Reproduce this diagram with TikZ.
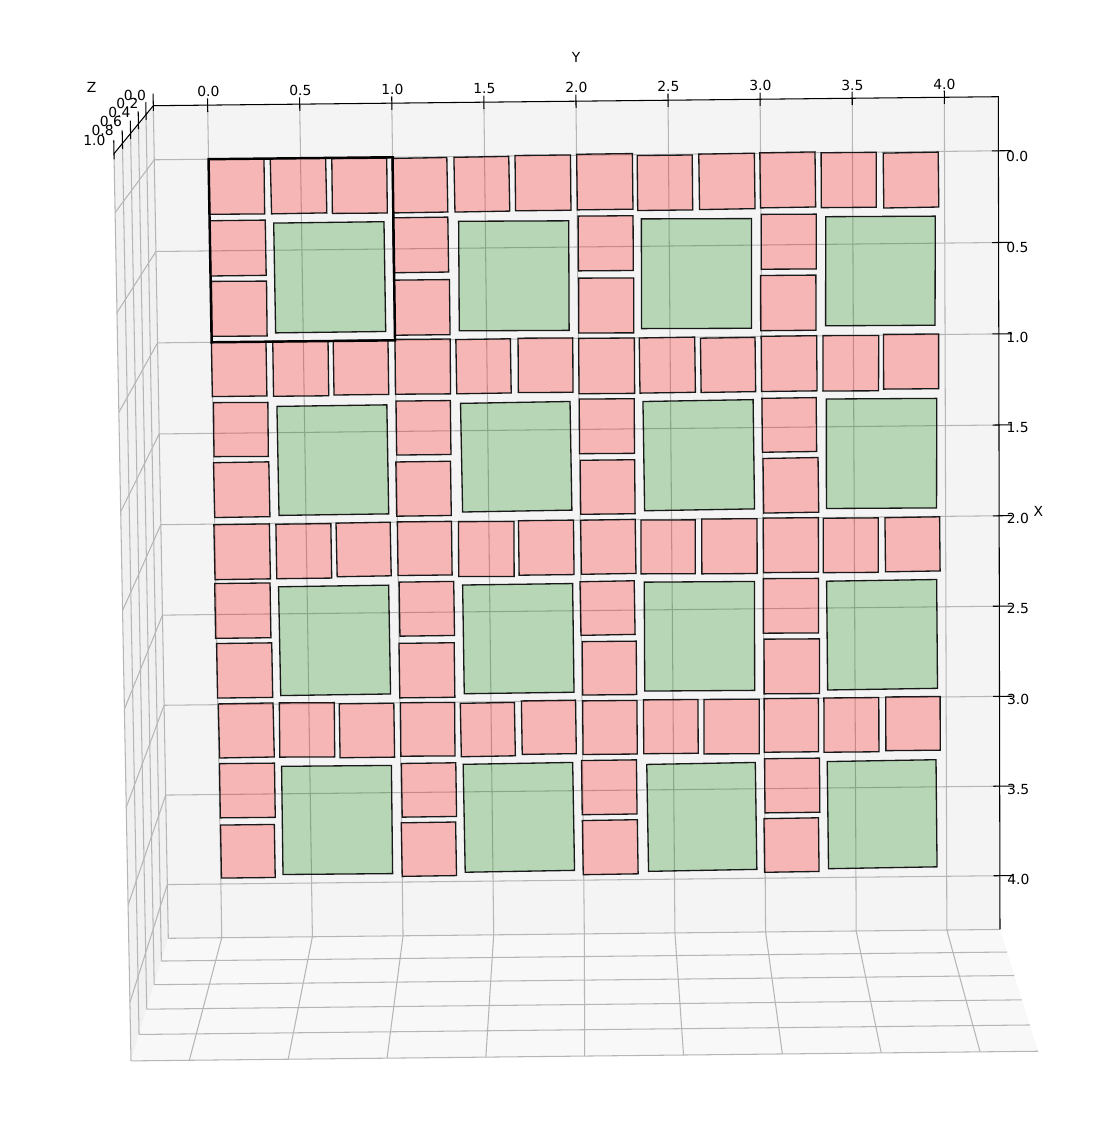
\documentclass[tikz,border=0pt]{standalone}
\usepackage{fontspec}
\setmainfont{DejaVu Sans}
\definecolor{paneback}{RGB}{244,244,244}
\definecolor{paneleft}{RGB}{241,241,241}
\definecolor{panefloor}{RGB}{248,248,248}
\definecolor{gridgray}{RGB}{182,182,182}
\definecolor{tilegreen}{RGB}{0,128,0}
% data limits of the three axes
\def\xlo{-0.294}\def\xhi{4.301}
\def\ylo{-0.295}\def\yhi{4.293}
% projection of a data point (x,y,z) to picture pixels
\tikzdeclarecoordinatesystem{d}{\dproj#1\relax}
\def\dproj#1,#2,#3\relax{%
  \pgfmathsetmacro\da{(#2+0.295)/4.588}%
  \pgfmathsetmacro\db{(#1+0.294)/4.595}%
  \pgfmathsetmacro\dw{1+0.016*\db}%
  \pgfmathsetmacro\du{(153.3+845*\da+17.69*\db)/\dw}%
  \pgfmathsetmacro\dv{(105.7-9*\da+847.61*\db)/\dw}%
  \pgfmathsetmacro\dr{\dw/(\dw-0.0844*(#3))}%
  \pgfpointxy{580+\dr*(\du-580)}{-415+\dr*(\dv+415)}}
% one square tile: style, x0, y0, size
\newcommand{\tile}[4]{%
  \pgfmathsetmacro\tsz{#4+0.004*rand}%
  \pgfmathsetmacro\tcx{#2+#4/2+0.005*rand}%
  \pgfmathsetmacro\tcy{#3+#4/2+0.005*rand}%
  \pgfmathsetmacro\trot{0.45*rand}%
  \pgfmathsetmacro\thc{\tsz/2*cos(\trot)}%
  \pgfmathsetmacro\ths{\tsz/2*sin(\trot)}%
  \draw[#1] (d cs:\tcx-\thc+\ths,\tcy-\thc-\ths,0) -- (d cs:\tcx-\thc-\ths,\tcy+\thc-\ths,0)
    -- (d cs:\tcx+\thc-\ths,\tcy+\thc+\ths,0) -- (d cs:\tcx+\thc+\ths,\tcy-\thc+\ths,0) -- cycle;}
\begin{document}
\begin{tikzpicture}[
  x=0.2mm, y=-0.2mm,
  font=\fontsize{7.9}{9}\selectfont,
  gridline/.style={draw=gridgray, line width=0.6pt},
  axisline/.style={draw=black, line width=0.6pt},
  redtile/.style={draw=black!90, line width=0.75pt, fill=red, fill opacity=0.25, draw opacity=1},
  greentile/.style={draw=black!90, line width=0.75pt, fill=tilegreen, fill opacity=0.25, draw opacity=1},
  blockline/.style={draw=black, line width=1.4pt},
  ticklabel/.style={inner sep=0pt}
]
\useasboundingbox (0,0) rectangle (1118,1127);
\pgfmathsetseed{7}
% panes
\fill[paneback] (d cs:\xlo,\ylo,0) -- (d cs:\xlo,\yhi,0) -- (d cs:\xhi,\yhi,0) -- (d cs:\xhi,\ylo,0) -- cycle;
\fill[paneleft] (d cs:\xlo,\ylo,0) -- (d cs:\xhi,\ylo,0) -- (d cs:\xhi,\ylo,1) -- (d cs:\xlo,\ylo,1) -- cycle;
\fill[panefloor] (d cs:\xhi,\ylo,0) -- (d cs:\xhi,\yhi,0) -- (d cs:\xhi,\yhi,1) -- (d cs:\xhi,\ylo,1) -- cycle;
% grid
\foreach \t in {0,0.5,...,4}{
  \draw[gridline] (d cs:\xlo,\t,0) -- (d cs:\xhi,\t,0);
  \draw[gridline] (d cs:\t,\ylo,0) -- (d cs:\t,\yhi,0);
  \draw[gridline] (d cs:\t,\ylo,0) -- (d cs:\t,\ylo,1);
  \draw[gridline] (d cs:\xhi,\t,0) -- (d cs:\xhi,\t,1);
}
\foreach \z in {0,0.2,0.4,0.6,0.8,1}{
  \draw[gridline] (d cs:\xlo,\ylo,\z) -- (d cs:\xhi,\ylo,\z);
  \draw[gridline] (d cs:\xhi,\ylo,\z) -- (d cs:\xhi,\yhi,\z);
}
% axes and ticks
\draw[axisline] (d cs:\xlo,\ylo,0) -- (d cs:\xlo,\yhi,0) -- (d cs:\xhi,\yhi,0);
\draw[axisline] (d cs:\xlo,\ylo,0) -- (d cs:\xlo,\ylo,1);
\foreach \t in {0,0.5,...,4}{
  \draw[axisline] (d cs:\xlo-0.036,\t,0) -- (d cs:\xlo+0.036,\t,0);
  \draw[axisline] (d cs:\t,\yhi-0.035,0) -- (d cs:\t,\yhi+0.071,0);
}
\foreach \z in {0,0.2,0.4,0.6,0.8,1}
  \draw[axisline] (d cs:\xlo-0.066,\ylo,\z) -- (d cs:\xlo+0.028,\ylo,\z);
\foreach \t [count=\k from 0] in {0.0,0.5,1.0,1.5,2.0,2.5,3.0,3.5,4.0}{
  \node[ticklabel] (ylab\k) at ({208.3+92*\k},{91.7-0.96*\k}) {\t};
  \node[ticklabel] (xlab\k) at ({1017.2+0.15*\k},{156.7+90.4*\k}) {\t};
}
\foreach \t/\u/\v [count=\k] in {0.0/135/95, 0.2/127.3/103.3, 0.4/119.3/112.3, 0.6/111/121, 0.8/102.7/130, 1.0/94.3/140}
  \node[ticklabel] (zlab\k) at (\u,\v) {\t};
\node (ytitle) at (576,57) {Y};
\node (xtitle) at (1038.3,511) {X};
\node (ztitle) at (91.7,87.7) {Z};
% tiles: each unit block holds five small tiles and one large one
\foreach \i in {0,...,3}{
  \foreach \j in {0,...,3}{
    \foreach \k in {0,1,2}{\tile{redtile}{\i}{\j+\k/3}{0.3}}
    \foreach \k in {1,2}{\tile{redtile}{\i+\k/3}{\j}{0.3}}
    \tile{greentile}{\i+0.35}{\j+0.35}{0.6}
  }
}
\draw[blockline] (d cs:0,0,0) -- (d cs:0,1,0) -- (d cs:1,1,0) -- (d cs:1,0,0) -- cycle;
\end{tikzpicture}
\end{document}
